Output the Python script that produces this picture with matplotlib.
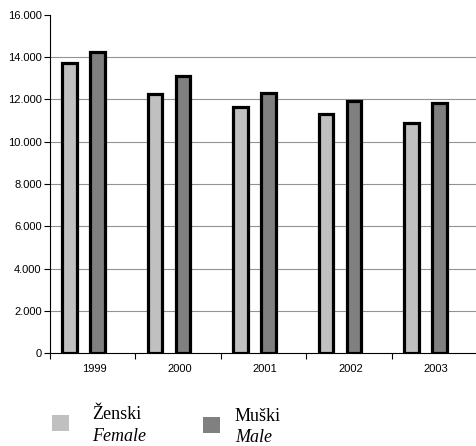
import matplotlib
matplotlib.use("Agg")
import matplotlib.pyplot as plt
from matplotlib.patches import Rectangle
from matplotlib.ticker import FuncFormatter
import numpy as np

years = ["1999", "2000", "2001", "2002", "2003"]
female = [13730, 12270, 11650, 11320, 10900]
male = [14250, 13110, 12310, 11940, 11840]
legend_top = ["Ženski", "Muški"]
legend_bottom = ["Female", "Male"]
c_female = "#C0C0C0"
c_male = "#808080"

W, H = 477, 446
fig = plt.figure(figsize=(W / 100, H / 100), dpi=100)
ax = fig.add_axes([50 / W, 1 - 353.3 / H, 427 / W, (353.3 - 14.7) / H])

x = np.arange(len(years))
bw = 0.17
ax.bar(x + 0.146, female, width=bw, align="edge", color=c_female,
       edgecolor="black", linewidth=2.3, zorder=3)
ax.bar(x + 0.474, male, width=bw, align="edge", color=c_male,
       edgecolor="black", linewidth=2.3, zorder=3)

ax.set_xlim(0, len(years))
ax.set_ylim(0, 16000)
yt = np.arange(0, 16001, 2000)
ax.set_yticks(yt)
ax.yaxis.set_major_formatter(FuncFormatter(lambda v, p: f"{int(v):,}".replace(",", ".")))
ax.set_xticks(x + 0.52)
ax.set_xticklabels(years)
ax.set_xticks(np.arange(0, len(years) + 1), minor=True)
ax.tick_params(axis="x", which="major", length=0, pad=8, labelsize=8)
ax.tick_params(axis="x", which="minor", length=4, width=0.8, direction="out")
ax.tick_params(axis="y", length=4, width=0.8, direction="out", labelsize=8, pad=2)
for lab in ax.get_xticklabels() + ax.get_yticklabels():
    lab.set_fontfamily("Liberation Sans")

ax.hlines(yt[1:-1], 0, len(years), color="#929292", linewidth=0.8, zorder=0)
for s in ["top", "right"]:
    ax.spines[s].set_visible(False)
for s in ["left", "bottom"]:
    ax.spines[s].set_linewidth(0.8)
    ax.spines[s].set_color("black")
    ax.spines[s].set_zorder(4)

def px(xp, yp):
    return xp / W, 1 - yp / H

# legend
for (lx, ly, col, t1, t2, tx, by1, by2) in [
    (52, 415, c_female, legend_top[0], legend_bottom[0], 92, 419, 441),
    (203, 417, c_male, legend_top[1], legend_bottom[1], 235, 421, 442),
]:
    x0, y0 = px(lx, ly + 16)
    fig.patches.append(Rectangle((x0, y0), 17 / W, 16 / H, transform=fig.transFigure,
                                 facecolor=col, edgecolor="none"))
    fig.text(*px(tx, by1), t1, fontsize=13, family="Liberation Serif", va="baseline")
    fig.text(*px(tx, by2), t2, fontsize=13, family="Liberation Serif", style="italic",
             va="baseline")

fig.savefig("out.png", dpi=100)
